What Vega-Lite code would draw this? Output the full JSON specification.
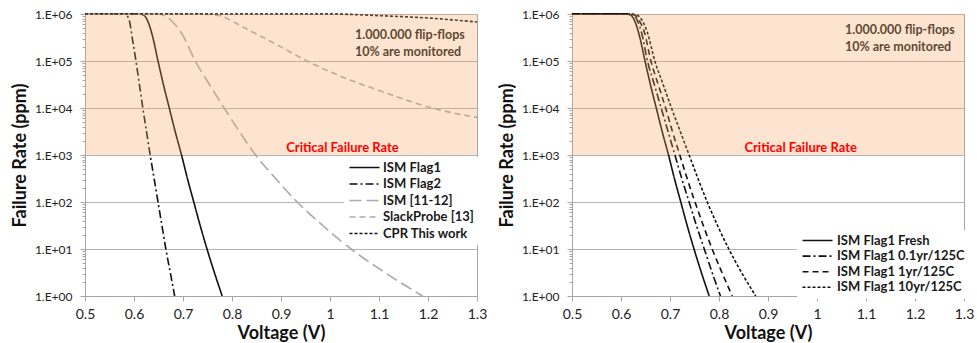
{
  "$schema": "https://vega.github.io/schema/vega-lite/v6.json",
  "padding": {"left": 10, "top": 7, "right": 0, "bottom": 0},
  "spacing": 9,
  "resolve": {"scale": {"color": "independent", "strokeDash": "independent", "strokeWidth": "independent"}, "legend": {"color": "independent", "strokeDash": "independent"}},
  "config": {
    "font": "Lato",
    "view": {"stroke": "#a6a6a6", "strokeWidth": 1},
    "axis": {"domainColor": "#a6a6a6", "tickColor": "#a6a6a6", "labelFont": "Lato", "titleFont": "Lato", "labelColor": "#222222", "titleColor": "#111111", "titleFontWeight": "bold", "titleFontSize": 18}
  },
  "datasets": {
    "left": [
      {"series": "ISM Flag1", "v": 0.5, "rate": 1000000},
      {"series": "ISM Flag1", "v": 0.608, "rate": 1000000},
      {"series": "ISM Flag1", "v": 0.614, "rate": 988553},
      {"series": "ISM Flag1", "v": 0.619, "rate": 954993},
      {"series": "ISM Flag1", "v": 0.624, "rate": 851138},
      {"series": "ISM Flag1", "v": 0.630, "rate": 630957},
      {"series": "ISM Flag1", "v": 0.638, "rate": 331131},
      {"series": "ISM Flag1", "v": 0.649, "rate": 100000},
      {"series": "ISM Flag1", "v": 0.660, "rate": 31623},
      {"series": "ISM Flag1", "v": 0.672, "rate": 10000},
      {"series": "ISM Flag1", "v": 0.684, "rate": 3162},
      {"series": "ISM Flag1", "v": 0.697, "rate": 1000},
      {"series": "ISM Flag1", "v": 0.709, "rate": 316.2},
      {"series": "ISM Flag1", "v": 0.722, "rate": 100},
      {"series": "ISM Flag1", "v": 0.735, "rate": 31.62},
      {"series": "ISM Flag1", "v": 0.749, "rate": 10},
      {"series": "ISM Flag1", "v": 0.764, "rate": 3.162},
      {"series": "ISM Flag1", "v": 0.780, "rate": 1},
      {"series": "ISM Flag2", "v": 0.5, "rate": 1000000},
      {"series": "ISM Flag2", "v": 0.578, "rate": 1000000},
      {"series": "ISM Flag2", "v": 0.583, "rate": 977237},
      {"series": "ISM Flag2", "v": 0.587, "rate": 891251},
      {"series": "ISM Flag2", "v": 0.591, "rate": 691831},
      {"series": "ISM Flag2", "v": 0.596, "rate": 331131},
      {"series": "ISM Flag2", "v": 0.604, "rate": 100000},
      {"series": "ISM Flag2", "v": 0.611, "rate": 31623},
      {"series": "ISM Flag2", "v": 0.618, "rate": 10000},
      {"series": "ISM Flag2", "v": 0.6255, "rate": 3162},
      {"series": "ISM Flag2", "v": 0.633, "rate": 1000},
      {"series": "ISM Flag2", "v": 0.641, "rate": 316.2},
      {"series": "ISM Flag2", "v": 0.649, "rate": 100},
      {"series": "ISM Flag2", "v": 0.657, "rate": 31.62},
      {"series": "ISM Flag2", "v": 0.665, "rate": 10},
      {"series": "ISM Flag2", "v": 0.674, "rate": 3.162},
      {"series": "ISM Flag2", "v": 0.683, "rate": 1},
      {"series": "ISM [11-12]", "v": 0.5, "rate": 1000000},
      {"series": "ISM [11-12]", "v": 0.645, "rate": 1000000},
      {"series": "ISM [11-12]", "v": 0.655, "rate": 977237},
      {"series": "ISM [11-12]", "v": 0.665, "rate": 891251},
      {"series": "ISM [11-12]", "v": 0.680, "rate": 660693},
      {"series": "ISM [11-12]", "v": 0.700, "rate": 346737},
      {"series": "ISM [11-12]", "v": 0.725, "rate": 100000},
      {"series": "ISM [11-12]", "v": 0.754, "rate": 31623},
      {"series": "ISM [11-12]", "v": 0.784, "rate": 10000},
      {"series": "ISM [11-12]", "v": 0.815, "rate": 3162},
      {"series": "ISM [11-12]", "v": 0.848, "rate": 1000},
      {"series": "ISM [11-12]", "v": 0.889, "rate": 316.2},
      {"series": "ISM [11-12]", "v": 0.933, "rate": 100},
      {"series": "ISM [11-12]", "v": 0.985, "rate": 31.62},
      {"series": "ISM [11-12]", "v": 1.043, "rate": 10},
      {"series": "ISM [11-12]", "v": 1.112, "rate": 3.162},
      {"series": "ISM [11-12]", "v": 1.189, "rate": 1},
      {"series": "SlackProbe [13]", "v": 0.5, "rate": 1000000},
      {"series": "SlackProbe [13]", "v": 0.73, "rate": 1000000},
      {"series": "SlackProbe [13]", "v": 0.755, "rate": 977237},
      {"series": "SlackProbe [13]", "v": 0.78, "rate": 891251},
      {"series": "SlackProbe [13]", "v": 0.80, "rate": 707946},
      {"series": "SlackProbe [13]", "v": 0.83, "rate": 478630},
      {"series": "SlackProbe [13]", "v": 0.86, "rate": 331131},
      {"series": "SlackProbe [13]", "v": 0.90, "rate": 199526},
      {"series": "SlackProbe [13]", "v": 0.953, "rate": 100000},
      {"series": "SlackProbe [13]", "v": 1.024, "rate": 46452},
      {"series": "SlackProbe [13]", "v": 1.106, "rate": 22387},
      {"series": "SlackProbe [13]", "v": 1.208, "rate": 10000},
      {"series": "SlackProbe [13]", "v": 1.3, "rate": 6310},
      {"series": "CPR This work", "v": 0.5, "rate": 1000000},
      {"series": "CPR This work", "v": 1.0, "rate": 1000000},
      {"series": "CPR This work", "v": 1.1, "rate": 922571},
      {"series": "CPR This work", "v": 1.2, "rate": 822243},
      {"series": "CPR This work", "v": 1.3, "rate": 676083}
    ],
    "right": [
      {"series": "ISM Flag1 Fresh", "v": 0.5, "rate": 1000000},
      {"series": "ISM Flag1 Fresh", "v": 0.608, "rate": 1000000},
      {"series": "ISM Flag1 Fresh", "v": 0.614, "rate": 988553},
      {"series": "ISM Flag1 Fresh", "v": 0.619, "rate": 954993},
      {"series": "ISM Flag1 Fresh", "v": 0.624, "rate": 851138},
      {"series": "ISM Flag1 Fresh", "v": 0.630, "rate": 630957},
      {"series": "ISM Flag1 Fresh", "v": 0.638, "rate": 331131},
      {"series": "ISM Flag1 Fresh", "v": 0.649, "rate": 100000},
      {"series": "ISM Flag1 Fresh", "v": 0.660, "rate": 31623},
      {"series": "ISM Flag1 Fresh", "v": 0.672, "rate": 10000},
      {"series": "ISM Flag1 Fresh", "v": 0.684, "rate": 3162},
      {"series": "ISM Flag1 Fresh", "v": 0.697, "rate": 1000},
      {"series": "ISM Flag1 Fresh", "v": 0.709, "rate": 316.2},
      {"series": "ISM Flag1 Fresh", "v": 0.722, "rate": 100},
      {"series": "ISM Flag1 Fresh", "v": 0.735, "rate": 31.62},
      {"series": "ISM Flag1 Fresh", "v": 0.749, "rate": 10},
      {"series": "ISM Flag1 Fresh", "v": 0.764, "rate": 3.162},
      {"series": "ISM Flag1 Fresh", "v": 0.780, "rate": 1},
      {"series": "ISM Flag1 0.1yr/125C", "v": 0.5, "rate": 1000000},
      {"series": "ISM Flag1 0.1yr/125C", "v": 0.612, "rate": 1000000},
      {"series": "ISM Flag1 0.1yr/125C", "v": 0.619, "rate": 988553},
      {"series": "ISM Flag1 0.1yr/125C", "v": 0.626, "rate": 933254},
      {"series": "ISM Flag1 0.1yr/125C", "v": 0.634, "rate": 707946},
      {"series": "ISM Flag1 0.1yr/125C", "v": 0.642, "rate": 398107},
      {"series": "ISM Flag1 0.1yr/125C", "v": 0.654, "rate": 100000},
      {"series": "ISM Flag1 0.1yr/125C", "v": 0.668, "rate": 31623},
      {"series": "ISM Flag1 0.1yr/125C", "v": 0.682, "rate": 10000},
      {"series": "ISM Flag1 0.1yr/125C", "v": 0.696, "rate": 3162},
      {"series": "ISM Flag1 0.1yr/125C", "v": 0.710, "rate": 1000},
      {"series": "ISM Flag1 0.1yr/125C", "v": 0.724, "rate": 316.2},
      {"series": "ISM Flag1 0.1yr/125C", "v": 0.739, "rate": 100},
      {"series": "ISM Flag1 0.1yr/125C", "v": 0.754, "rate": 31.62},
      {"series": "ISM Flag1 0.1yr/125C", "v": 0.770, "rate": 10},
      {"series": "ISM Flag1 0.1yr/125C", "v": 0.786, "rate": 3.162},
      {"series": "ISM Flag1 0.1yr/125C", "v": 0.803, "rate": 1},
      {"series": "ISM Flag1 1yr/125C", "v": 0.5, "rate": 1000000},
      {"series": "ISM Flag1 1yr/125C", "v": 0.614, "rate": 1000000},
      {"series": "ISM Flag1 1yr/125C", "v": 0.621, "rate": 988553},
      {"series": "ISM Flag1 1yr/125C", "v": 0.629, "rate": 933254},
      {"series": "ISM Flag1 1yr/125C", "v": 0.638, "rate": 707946},
      {"series": "ISM Flag1 1yr/125C", "v": 0.648, "rate": 398107},
      {"series": "ISM Flag1 1yr/125C", "v": 0.661, "rate": 100000},
      {"series": "ISM Flag1 1yr/125C", "v": 0.676, "rate": 31623},
      {"series": "ISM Flag1 1yr/125C", "v": 0.691, "rate": 10000},
      {"series": "ISM Flag1 1yr/125C", "v": 0.705, "rate": 3162},
      {"series": "ISM Flag1 1yr/125C", "v": 0.720, "rate": 1000},
      {"series": "ISM Flag1 1yr/125C", "v": 0.735, "rate": 316.2},
      {"series": "ISM Flag1 1yr/125C", "v": 0.751, "rate": 100},
      {"series": "ISM Flag1 1yr/125C", "v": 0.768, "rate": 31.62},
      {"series": "ISM Flag1 1yr/125C", "v": 0.786, "rate": 10},
      {"series": "ISM Flag1 1yr/125C", "v": 0.806, "rate": 3.162},
      {"series": "ISM Flag1 1yr/125C", "v": 0.827, "rate": 1},
      {"series": "ISM Flag1 10yr/125C", "v": 0.5, "rate": 1000000},
      {"series": "ISM Flag1 10yr/125C", "v": 0.616, "rate": 1000000},
      {"series": "ISM Flag1 10yr/125C", "v": 0.624, "rate": 988553},
      {"series": "ISM Flag1 10yr/125C", "v": 0.634, "rate": 933254},
      {"series": "ISM Flag1 10yr/125C", "v": 0.644, "rate": 707946},
      {"series": "ISM Flag1 10yr/125C", "v": 0.654, "rate": 398107},
      {"series": "ISM Flag1 10yr/125C", "v": 0.669, "rate": 100000},
      {"series": "ISM Flag1 10yr/125C", "v": 0.686, "rate": 31623},
      {"series": "ISM Flag1 10yr/125C", "v": 0.703, "rate": 10000},
      {"series": "ISM Flag1 10yr/125C", "v": 0.721, "rate": 3162},
      {"series": "ISM Flag1 10yr/125C", "v": 0.739, "rate": 1000},
      {"series": "ISM Flag1 10yr/125C", "v": 0.757, "rate": 316.2},
      {"series": "ISM Flag1 10yr/125C", "v": 0.776, "rate": 100},
      {"series": "ISM Flag1 10yr/125C", "v": 0.797, "rate": 31.62},
      {"series": "ISM Flag1 10yr/125C", "v": 0.820, "rate": 10},
      {"series": "ISM Flag1 10yr/125C", "v": 0.846, "rate": 3.162},
      {"series": "ISM Flag1 10yr/125C", "v": 0.875, "rate": 1}
    ],
    "band": [{"v": 0.5, "v2": 1.3, "rate": 1000, "rate2": 1000000}],
    "noteL": [
      {"v": 1.051, "rate": 357273, "label": "1.000.000 flip-flops"},
      {"v": 1.051, "rate": 155239, "label": "10% are monitored"}
    ],
    "noteR": [
      {"v": 1.057, "rate": 457088, "label": "1.000.000 flip-flops"},
      {"v": 1.057, "rate": 201372, "label": "10% are monitored"}
    ],
    "critL": [{"v": 1.0255, "rate": 1000, "label": "Critical Failure Rate"}],
    "critR": [{"v": 0.9667, "rate": 1000, "label": "Critical Failure Rate"}]
  },
  "hconcat": [
    {
      "width": 392,
      "height": 282,
      "resolve": {"axis": {"y": "independent"}},
      "encoding": {
        "x": {"field": "v", "type": "quantitative", "title": "Voltage (V)",
          "scale": {"domain": [0.5, 1.3], "nice": false, "zero": false},
          "axis": {"values": [0.5, 0.6, 0.7, 0.8, 0.9, 1, 1.1, 1.2, 1.3], "format": ".1~f", "grid": false, "tickSize": 5, "labelFontSize": 14, "labelPadding": 6, "titlePadding": 3, "labelFlush": false, "labelOverlap": false}}
      },
      "layer": [
        {
          "data": {"name": "left"},
          "mark": {"type": "line", "interpolate": "monotone"},
          "encoding": {
            "y": {"field": "rate", "type": "quantitative", "title": "Failure Rate (ppm)",
              "scale": {"type": "log", "domain": [1, 1000000], "nice": false},
              "axis": {"orient": "left", "values": [1, 10, 100, 1000, 10000, 100000, 1000000], "labelExpr": "'1.E+' + (round(log(datum.value)/LN10) < 10 ? '0' : '') + round(log(datum.value)/LN10)", "grid": true, "gridColor": "#b3b3b3", "gridWidth": 1.2, "tickSize": 5, "labelFontSize": 12, "labelPadding": 8, "titlePadding": 5, "labelFlush": false, "labelOverlap": false}},
            "color": {"field": "series", "type": "nominal",
              "scale": {"domain": ["ISM Flag1", "ISM Flag2", "ISM [11-12]", "SlackProbe [13]", "CPR This work"], "range": ["#111111", "#111111", "#aaaaaa", "#aaaaaa", "#111111"]},
              "legend": {"title": null, "orient": "none", "legendX": 259, "legendY": 143, "symbolType": "M-1,0H5", "symbolSize": 100, "symbolStrokeWidth": 1.6, "symbolFillColor": "transparent", "labelFont": "Lato", "labelFontSize": 13, "labelFontWeight": "bold", "labelColor": "#1a1a1a", "fillColor": "white", "padding": 4, "rowPadding": 2.5, "labelOffset": 22, "labelLimit": 300}},
            "strokeDash": {"field": "series", "type": "nominal",
              "scale": {"domain": ["ISM Flag1", "ISM Flag2", "ISM [11-12]", "SlackProbe [13]", "CPR This work"], "range": [[1, 0], [8, 3, 2, 3], [12, 5], [6, 4], [3, 2]]},
              "legend": {"title": null, "orient": "none", "legendX": 259, "legendY": 143, "symbolType": "M-1,0H5", "symbolSize": 100, "symbolStrokeWidth": 1.6, "symbolFillColor": "transparent", "labelFont": "Lato", "labelFontSize": 13, "labelFontWeight": "bold", "labelColor": "#1a1a1a", "fillColor": "white", "padding": 4, "rowPadding": 2.5, "labelOffset": 22, "labelLimit": 300}},
            "strokeWidth": {"field": "series", "type": "nominal",
              "scale": {"domain": ["ISM Flag1", "ISM Flag2", "ISM [11-12]", "SlackProbe [13]", "CPR This work"], "range": [1.6, 1.6, 2, 2, 1.6]}, "legend": null}
          }
        },
        {
          "data": {"name": "noteL"},
          "mark": {"type": "text", "align": "left", "baseline": "middle", "fontSize": 12.5, "fontWeight": "bold", "color": "#1a1a1a", "font": "Lato"},
          "encoding": {
            "y": {"field": "rate", "type": "quantitative", "scale": {"type": "log", "domain": [1, 1000000], "nice": false}, "axis": null},
            "text": {"field": "label"}
          }
        },
        {
          "data": {"name": "band"},
          "mark": {"type": "rect", "color": "#f5a562", "opacity": 0.3},
          "encoding": {
            "x2": {"field": "v2"},
            "y": {"field": "rate", "type": "quantitative", "scale": {"type": "log", "domain": [1, 1000000], "nice": false},
              "axis": {"orient": "left", "title": null, "values": [2, 3, 4, 5, 6, 7, 8, 9, 20, 30, 40, 50, 60, 70, 80, 90, 200, 300, 400, 500, 600, 700, 800, 900, 2000, 3000, 4000, 5000, 6000, 7000, 8000, 9000, 20000, 30000, 40000, 50000, 60000, 70000, 80000, 90000, 200000, 300000, 400000, 500000, 600000, 700000, 800000, 900000], "labels": false, "grid": false, "domain": false, "tickSize": 3}},
            "y2": {"field": "rate2"}
          }
        },
        {
          "data": {"name": "critL"},
          "mark": {"type": "text", "align": "center", "baseline": "alphabetic", "dy": -3, "fontSize": 13, "fontWeight": "bold", "color": "#ff0000", "font": "Lato"},
          "encoding": {
            "y": {"field": "rate", "type": "quantitative", "scale": {"type": "log", "domain": [1, 1000000], "nice": false}, "axis": null},
            "text": {"field": "label"}
          }
        }
      ]
    },
    {
      "width": 392,
      "height": 282,
      "resolve": {"axis": {"y": "independent"}},
      "encoding": {
        "x": {"field": "v", "type": "quantitative", "title": "Voltage (V)",
          "scale": {"domain": [0.5, 1.3], "nice": false, "zero": false},
          "axis": {"values": [0.5, 0.6, 0.7, 0.8, 0.9, 1, 1.1, 1.2, 1.3], "format": ".1~f", "grid": false, "tickSize": 5, "labelFontSize": 14, "labelPadding": 6, "titlePadding": 3, "labelFlush": false, "labelOverlap": false}}
      },
      "layer": [
        {
          "data": {"name": "right"},
          "mark": {"type": "line", "interpolate": "monotone"},
          "encoding": {
            "y": {"field": "rate", "type": "quantitative", "title": "Failure Rate (ppm)",
              "scale": {"type": "log", "domain": [1, 1000000], "nice": false},
              "axis": {"orient": "left", "values": [1, 10, 100, 1000, 10000, 100000, 1000000], "labelExpr": "'1.E+' + (round(log(datum.value)/LN10) < 10 ? '0' : '') + round(log(datum.value)/LN10)", "grid": true, "gridColor": "#b3b3b3", "gridWidth": 1.2, "tickSize": 5, "labelFontSize": 12, "labelPadding": 8, "titlePadding": 5, "labelFlush": false, "labelOverlap": false}},
            "color": {"field": "series", "type": "nominal",
              "scale": {"domain": ["ISM Flag1 Fresh", "ISM Flag1 0.1yr/125C", "ISM Flag1 1yr/125C", "ISM Flag1 10yr/125C"], "range": ["#111111", "#111111", "#111111", "#111111"]},
              "legend": {"title": null, "orient": "none", "legendX": 225, "legendY": 216, "symbolType": "M-1,0H5", "symbolSize": 100, "symbolStrokeWidth": 1.6, "symbolFillColor": "transparent", "labelFont": "Lato", "labelFontSize": 13, "labelFontWeight": "bold", "labelColor": "#1a1a1a", "fillColor": "white", "padding": 4, "rowPadding": 1.6, "labelOffset": 23, "labelLimit": 300}},
            "strokeDash": {"field": "series", "type": "nominal",
              "scale": {"domain": ["ISM Flag1 Fresh", "ISM Flag1 0.1yr/125C", "ISM Flag1 1yr/125C", "ISM Flag1 10yr/125C"], "range": [[1, 0], [8, 3, 2, 3], [6, 4], [3, 2]]},
              "legend": {"title": null, "orient": "none", "legendX": 225, "legendY": 216, "symbolType": "M-1,0H5", "symbolSize": 100, "symbolStrokeWidth": 1.6, "symbolFillColor": "transparent", "labelFont": "Lato", "labelFontSize": 13, "labelFontWeight": "bold", "labelColor": "#1a1a1a", "fillColor": "white", "padding": 4, "rowPadding": 1.6, "labelOffset": 23, "labelLimit": 300}},
            "strokeWidth": {"value": 1.6}
          }
        },
        {
          "data": {"name": "noteR"},
          "mark": {"type": "text", "align": "left", "baseline": "middle", "fontSize": 12.5, "fontWeight": "bold", "color": "#1a1a1a", "font": "Lato"},
          "encoding": {
            "y": {"field": "rate", "type": "quantitative", "scale": {"type": "log", "domain": [1, 1000000], "nice": false}, "axis": null},
            "text": {"field": "label"}
          }
        },
        {
          "data": {"name": "band"},
          "mark": {"type": "rect", "color": "#f5a562", "opacity": 0.3},
          "encoding": {
            "x2": {"field": "v2"},
            "y": {"field": "rate", "type": "quantitative", "scale": {"type": "log", "domain": [1, 1000000], "nice": false},
              "axis": {"orient": "left", "title": null, "values": [2, 3, 4, 5, 6, 7, 8, 9, 20, 30, 40, 50, 60, 70, 80, 90, 200, 300, 400, 500, 600, 700, 800, 900, 2000, 3000, 4000, 5000, 6000, 7000, 8000, 9000, 20000, 30000, 40000, 50000, 60000, 70000, 80000, 90000, 200000, 300000, 400000, 500000, 600000, 700000, 800000, 900000], "labels": false, "grid": false, "domain": false, "tickSize": 3}},
            "y2": {"field": "rate2"}
          }
        },
        {
          "data": {"name": "critR"},
          "mark": {"type": "text", "align": "center", "baseline": "alphabetic", "dy": -3, "fontSize": 13, "fontWeight": "bold", "color": "#ff0000", "font": "Lato"},
          "encoding": {
            "y": {"field": "rate", "type": "quantitative", "scale": {"type": "log", "domain": [1, 1000000], "nice": false}, "axis": null},
            "text": {"field": "label"}
          }
        }
      ]
    }
  ]
}
